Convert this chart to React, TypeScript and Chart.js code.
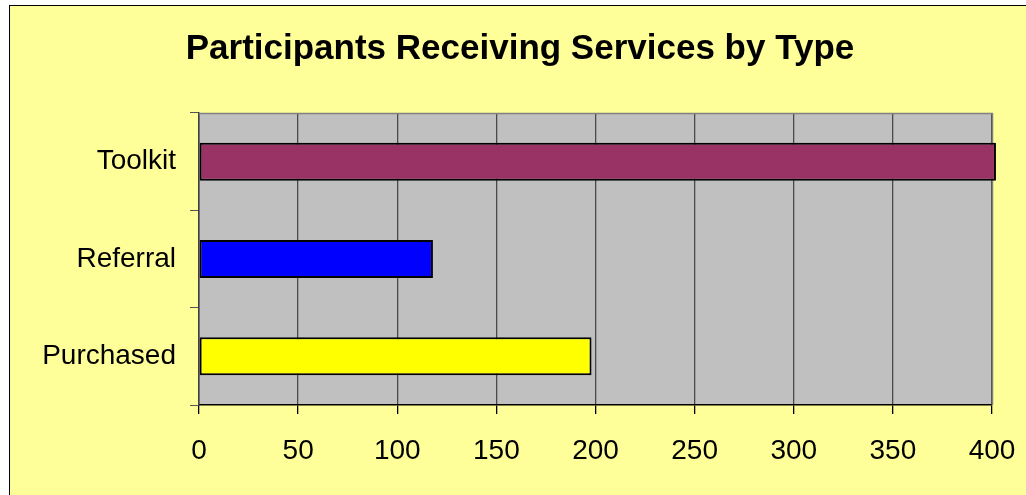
import React, { useEffect, useRef } from "react";
import { Chart, registerables } from "chart.js";

Chart.register(...registerables);

const TITLE = "Participants Receiving Services by Type";
const CATEGORIES = ["Toolkit", "Referral", "Purchased"];
const VALUES = [402, 118, 198];
const BAR_COLORS = ["#993366", "#0000FF", "#FFFF00"];
const X_MIN = 0;
const X_MAX = 400;
const X_STEP = 50;

const FONT = "'Liberation Sans', Arial, sans-serif";

const plotBg = {
  id: "plotBg",
  beforeDraw(chart: any) {
    const { ctx, chartArea } = chart;
    ctx.save();
    ctx.fillStyle = "#C0C0C0";
    ctx.fillRect(chartArea.left, chartArea.top, chartArea.right - chartArea.left, chartArea.bottom - chartArea.top);
    ctx.restore();
  },
  beforeDatasetsDraw(chart: any) {
    const { ctx, chartArea } = chart;
    ctx.save();
    ctx.strokeStyle = "#808080";
    ctx.lineWidth = 1.5;
    ctx.beginPath();
    ctx.moveTo(chartArea.left, chartArea.top + 0.5);
    ctx.lineTo(chartArea.right + 0.5, chartArea.top + 0.5);
    ctx.lineTo(chartArea.right + 0.5, chartArea.bottom);
    ctx.stroke();
    ctx.restore();
  },
};

export default function App() {
  const ref = useRef<HTMLCanvasElement | null>(null);

  useEffect(() => {
    if (!ref.current) return;
    const chart = new Chart(ref.current, {
      type: "bar",
      data: {
        labels: CATEGORIES,
        datasets: [
          {
            data: VALUES,
            backgroundColor: BAR_COLORS,
            borderColor: "#000000",
            borderWidth: 2,
            borderSkipped: false,
            barPercentage: 0.39,
            categoryPercentage: 1,
            clip: false as any,
          },
        ],
      },
      options: {
        indexAxis: "y",
        animation: false,
        responsive: false,
        maintainAspectRatio: false,
        layout: { padding: { top: 0, left: 4, right: 0, bottom: 0 } },
        plugins: {
          legend: { display: false },
          tooltip: { enabled: false },
          title: {
            display: true,
            text: TITLE,
            color: "#000000",
            font: { family: FONT, size: 35, weight: "bold" },
            padding: { top: 22, bottom: 43 },
          },
        },
        scales: {
          x: {
            min: X_MIN,
            max: X_MAX,
            ticks: {
              stepSize: X_STEP,
              color: "#000000",
              font: { family: FONT, size: 28 },
              padding: 20,
              maxRotation: 0,
            },
            grid: {
              color: "#4a4a4a",
              lineWidth: 1.3,
              tickLength: 9,
              tickColor: "#000000",
            },
            border: { display: true, color: "#000000", width: 1.5 },
            afterFit(scale: any) {
              scale.height = 90;
              scale.paddingLeft = 0;
              scale.paddingRight = 0;
            },
          },
          y: {
            ticks: {
              color: "#000000",
              font: { family: FONT, size: 28 },
              padding: 14,
            },
            grid: {
              offset: true,
              drawOnChartArea: false,
              drawTicks: true,
              tickLength: 9,
              color: "#555555",
              tickColor: "#555555",
            },
            border: { display: true, color: "#404040", width: 1.5 },
            afterFit(scale: any) {
              scale.width = 185;
              scale.paddingTop = 0;
              scale.paddingBottom = 0;
            },
          },
          spacer: {
            type: "linear",
            position: "right",
            display: true,
            ticks: { display: false },
            grid: { display: false, drawTicks: false },
            border: { display: false },
            afterFit(scale: any) {
              scale.width = 34;
              scale.paddingTop = 0;
              scale.paddingBottom = 0;
            },
          },
        },
      },
      plugins: [plotBg],
    });
    return () => chart.destroy();
  }, []);

  return (
    <div
      style={{
        position: "fixed",
        left: 9,
        top: 5,
        right: 0,
        bottom: 0,
        background: "#FFFF99",
        borderTop: "1px solid #000",
        borderLeft: "1px solid #000",
        overflow: "hidden",
      }}
    >
      <canvas ref={ref} width={1016} height={489} style={{ display: "block", width: 1016, height: 489 }} />
    </div>
  );
}
